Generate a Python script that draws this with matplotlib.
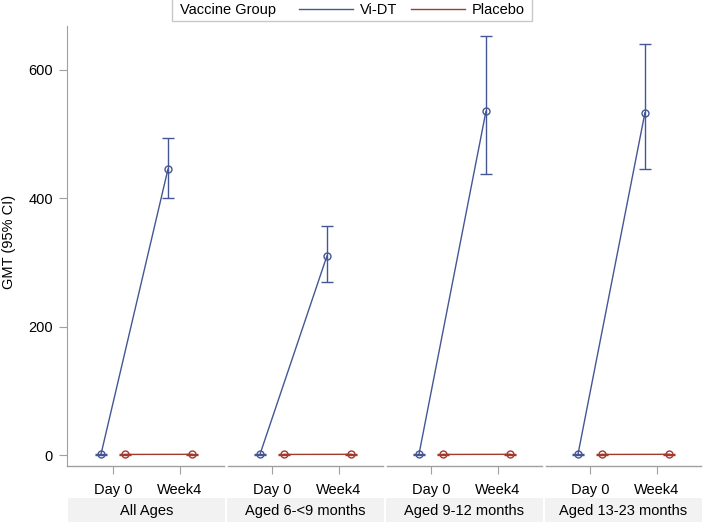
import matplotlib
matplotlib.use("Agg")
import matplotlib.pyplot as plt
from matplotlib.patches import Rectangle
import numpy as np

plt.rcParams['font.family'] = ['Liberation Sans', 'DejaVu Sans']

groups = ["All Ages", "Aged 6-<9 months", "Aged 9-12 months", "Aged 13-23 months"]
visits = ["Day 0", "Week4"]

# GMT and 95% CI per group, [Day 0, Week4]
vidt_gmt = [[1, 445], [1, 310], [1, 535], [1, 533]]
vidt_lo = [[0.5, 401], [0.5, 269], [0.5, 437], [0.5, 445]]
vidt_hi = [[1.5, 493], [1.5, 357], [1.5, 652], [1.5, 640]]
plac_gmt = [[1, 1.2], [1, 1.2], [1, 1.2], [1, 1.2]]
plac_lo = [[0.6, 0.8], [0.6, 0.8], [0.6, 0.8], [0.6, 0.8]]
plac_hi = [[1.4, 1.6], [1.4, 1.6], [1.4, 1.6], [1.4, 1.6]]

blue = "#445694"
red = "#A23A2E"
gray = "#a0a0a0"

fig = plt.figure(figsize=(7.04, 5.22), dpi=100)
ax = fig.add_axes([67/704, 1 - 466/522, 636/704, 440/522])

W = 159/67  # panel width in category units
off = 0.18
xt, xl = [], []
for i, g in enumerate(groups):
    base = i*W + np.arange(2)
    xt += list(base)
    xl += visits
    for gmt, lo, hi, col, d in [(vidt_gmt, vidt_lo, vidt_hi, blue, -off),
                                (plac_gmt, plac_lo, plac_hi, red, off)]:
        y = np.array(gmt[i])
        err = [y - np.array(lo[i]), np.array(hi[i]) - y]
        ax.errorbar(base + d, y, yerr=err, color=col, lw=1, capsize=4.2,
                    capthick=1, marker='o', ms=5, mfc='none', mew=1)
    # bottom axis line per panel, with small gaps between panels
    ax.axhline(-17, xmin=(i*159 + (2 if i else 0))/636, xmax=((i+1)*159 - 2)/636,
               color=gray, lw=1, clip_on=False)

ax.set_xlim(-(W-1)/2, 4*W - (W-1)/2)
ax.set_ylim(-17, 668)
ax.set_xticks(xt)
ax.set_xticklabels(xl, fontsize=10.5)
ax.set_yticks([0, 200, 400, 600])
ax.tick_params(axis='y', labelsize=10.5, length=6, color=gray, pad=4)
ax.tick_params(axis='x', length=6, color=gray, pad=6)
for s in ['top', 'right', 'bottom']:
    ax.spines[s].set_visible(False)
ax.spines['left'].set_color(gray)
fig.text(9/704, 1 - 242/522, "GMT (95% CI)", rotation=90, ha='center', va='center',
         fontsize=10.5)

# group label band
for i, g in enumerate(groups):
    x0 = (67 + i*159 + 1)/704
    fig.patches.append(Rectangle((x0, 0), 157/704, 24/522, transform=fig.transFigure,
                                 facecolor="#f2f2f2", edgecolor='none'))
    fig.text((67 + i*159 + 79.5)/704, 11/522, g, ha='center', va='center', fontsize=10.5)

# legend
fig.patches.append(Rectangle((172/704, 1 - 21/522), 360/704, 24/522, transform=fig.transFigure,
                             facecolor='white', edgecolor='#c8c8c8', lw=1))
fig.text(180/704, 1 - 10/522, "Vaccine Group", ha='left', va='center', fontsize=10.5)
h1, = ax.plot([], [], color=blue, lw=1)
h2, = ax.plot([], [], color=red, lw=1)
fig.legend([h1, h2], ["Vi-DT", "Placebo"], ncol=2, frameon=False, fontsize=10.5,
           loc='center left', bbox_to_anchor=(299/704, 1 - 10/522),
           handlelength=3.7, handletextpad=0.5, columnspacing=0.9, borderpad=0,
           borderaxespad=0)

fig.savefig("out.png", dpi=100)
